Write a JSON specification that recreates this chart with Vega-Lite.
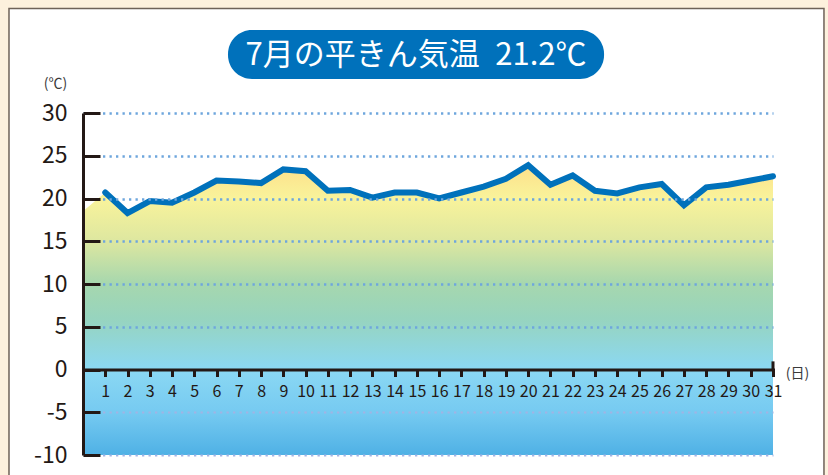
{
  "$schema": "https://vega.github.io/schema/vega-lite/v6.json",
  "width": 690,
  "height": 342,
  "autosize": "none",
  "padding": {"left": 83, "top": 113, "right": 55, "bottom": 20},
  "background": "#fdf1dd",
  "config": {"view": {"stroke": null}, "font": "Noto Sans CJK JP"},
  "data": {"values": [
    {"day": 0, "temp": 18.5},
    {"day": 1, "temp": 20.7}, {"day": 2, "temp": 18.3}, {"day": 3, "temp": 19.7}, {"day": 4, "temp": 19.5},
    {"day": 5, "temp": 20.7}, {"day": 6, "temp": 22.1}, {"day": 7, "temp": 22.0}, {"day": 8, "temp": 21.8},
    {"day": 9, "temp": 23.4}, {"day": 10, "temp": 23.2}, {"day": 11, "temp": 20.9}, {"day": 12, "temp": 21.0},
    {"day": 13, "temp": 20.1}, {"day": 14, "temp": 20.7}, {"day": 15, "temp": 20.7}, {"day": 16, "temp": 20.0},
    {"day": 17, "temp": 20.7}, {"day": 18, "temp": 21.4}, {"day": 19, "temp": 22.3}, {"day": 20, "temp": 23.9},
    {"day": 21, "temp": 21.6}, {"day": 22, "temp": 22.7}, {"day": 23, "temp": 20.9}, {"day": 24, "temp": 20.6},
    {"day": 25, "temp": 21.3}, {"day": 26, "temp": 21.7}, {"day": 27, "temp": 19.2}, {"day": 28, "temp": 21.3},
    {"day": 29, "temp": 21.6}, {"day": 30, "temp": 22.1}, {"day": 31, "temp": 22.6}
  ]},
  "layer": [
    {
      "data": {"values": [{"k": 1}]},
      "mark": {"type": "rect", "fill": "#ffffff", "stroke": "#6e6258", "strokeWidth": 1.5, "clip": false},
      "encoding": {
        "x": {
          "datum": -3.325, "type": "quantitative",
          "scale": {"domain": [0, 31], "nice": false, "zero": false},
          "axis": {
            "values": [1,2,3,4,5,6,7,8,9,10,11,12,13,14,15,16,17,18,19,20,21,22,23,24,25,26,27,28,29,30,31],
            "tickCount": 31,
            "offset": -85.5,
            "zindex": 1,
            "grid": false,
            "domainColor": "#231815", "domainWidth": 3, "domainCap": "square",
            "tickColor": "#231815", "tickWidth": 3, "tickSize": 7,
            "labelFontSize": 16, "labelColor": "#231815", "labelFont": "Noto Sans CJK JP",
            "labelBaseline": "middle", "labelPadding": 14.5, "labelFlush": false, "labelOverlap": false, "labelBound": false,
            "title": "(日)", "titleFontSize": 14, "titleColor": "#3a3a3a", "titleFontWeight": "normal",
            "titleAngle": 0, "titleX": 714, "titleY": 4, "titleAlign": "center", "titleBaseline": "middle"
          }
        },
        "x2": {"datum": 33.29},
        "y": {
          "datum": 42.22, "type": "quantitative",
          "scale": {"domain": [-10, 30], "nice": false, "zero": false},
          "axis": {
            "values": [-10, -5, 0, 5, 10, 15, 20, 25, 30],
            "labelExpr": "'' + datum.value",
            "zindex": 1,
            "grid": true,
            "gridColor": {"condition": {"test": "datum.value < 0", "value": "#a2b3e4"}, "value": "#6ea6dd"},
            "gridWidth": {"condition": {"test": "datum.value < 0", "value": 2}, "value": 2.5},
            "gridOpacity": {"condition": {"test": "datum.value === 0", "value": 0}, "value": 1},
            "gridDash": [2.3, 4.2],
            "domainColor": "#231815", "domainWidth": 3,
            "tickColor": "#231815", "tickWidth": 3, "tickSize": -17,
            "labelFontSize": 23, "labelColor": "#231815", "labelFont": "Noto Sans CJK JP",
            "labelPadding": 33, "labelFlush": false, "labelOverlap": false,
            "title": "(℃)", "titleFontSize": 14, "titleColor": "#3a3a3a", "titleFontWeight": "normal",
            "titleAngle": 0, "titleX": -28, "titleY": -30, "titleAlign": "center", "titleBaseline": "middle"
          }
        },
        "y2": {"datum": -13.5}
      }
    },
    {
      "data": {"values": [{"k": 1}]},
      "mark": {"type": "rect", "fill": "#0071bb", "cornerRadius": 24, "clip": false},
      "encoding": {
        "x": {"datum": 6.514, "type": "quantitative"},
        "x2": {"datum": 23.41},
        "y": {"datum": 39.71, "type": "quantitative"},
        "y2": {"datum": 33.98}
      }
    },
    {
      "data": {"values": [{"k": 1}]},
      "mark": {"type": "text", "text": "7月の平きん気温\u200221.2℃", "color": "#ffffff", "fontSize": 31, "fontWeight": "normal", "font": "Noto Sans CJK JP", "align": "center", "baseline": "middle", "clip": false},
      "encoding": {
        "x": {"datum": 14.96, "type": "quantitative"},
        "y": {"datum": 36.7, "type": "quantitative"}
      }
    },
    {
      "mark": {
        "type": "area",
        "fill": {
          "gradient": "linear", "x1": 0, "y1": 0, "x2": 0, "y2": 1,
          "stops": [
            {"offset": 0, "color": "#fde08a"},
            {"offset": 0.115, "color": "#f9f39b"},
            {"offset": 0.263, "color": "#dde7a0"},
            {"offset": 0.41, "color": "#a6d7ae"},
            {"offset": 0.528, "color": "#97d4be"},
            {"offset": 0.705, "color": "#8bd8f3"},
            {"offset": 0.853, "color": "#76caf1"},
            {"offset": 1, "color": "#4fb1e5"}
          ]
        }
      },
      "encoding": {
        "x": {"field": "day", "type": "quantitative"},
        "y": {"field": "temp", "type": "quantitative"},
        "y2": {"datum": -10}
      }
    },
    {
      "transform": [{"filter": "datum.day >= 1"}],
      "mark": {"type": "line", "color": "#0071bb", "strokeWidth": 6, "strokeJoin": "miter", "strokeCap": "round"},
      "encoding": {
        "x": {"field": "day", "type": "quantitative"},
        "y": {"field": "temp", "type": "quantitative"}
      }
    },
    {
      "data": {"values": [{"k": 1}]},
      "mark": {"type": "rule", "color": "#231815", "strokeWidth": 3, "clip": false},
      "encoding": {
        "x": {"datum": 31, "type": "quantitative"},
        "y": {"datum": 0, "type": "quantitative"},
        "y2": {"datum": 0.95}
      }
    }
  ]
}
